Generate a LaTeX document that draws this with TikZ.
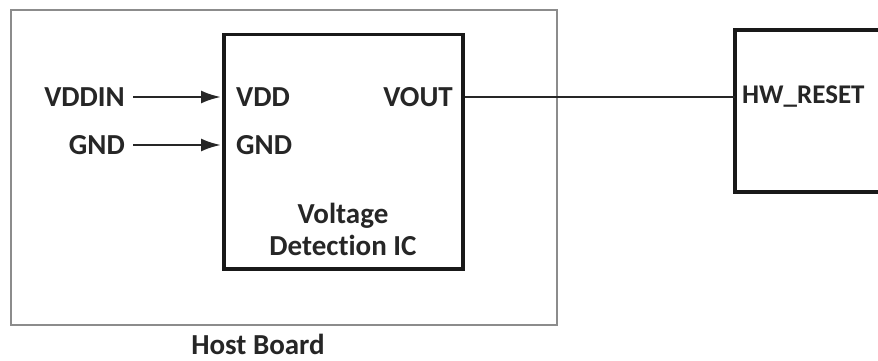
\documentclass[tikz,border=0pt]{standalone}
\usepackage{fontspec}
\setmainfont{Carlito}[Ligatures={NoCommon,NoRequired,NoContextual}]
\usetikzlibrary{arrows.meta}
\begin{document}
\begin{tikzpicture}[x=1pt,y=-1pt,
  lbl/.style={font=\fontsize{29}{32}\selectfont\bfseries, text=black!85, inner sep=0pt},
  board/.style={draw=black!45, line width=2.2pt},
  icbox/.style={draw=black!90, line width=3.5pt},
  wire/.style={draw=black!85, line width=2.6pt},
  sig/.style={wire, -{Latex[length=20pt,width=13pt]}}]
\useasboundingbox (0,0) rectangle (878,361);
\fill[white] (0,0) rectangle (878,361);
% host board
\draw[board] (11,10) rectangle (557,325);
\node[lbl, anchor=north] (host) at (258,334) {Host Board};
% IC
\node[icbox, minimum width=239pt, minimum height=234pt, inner sep=0pt, anchor=north west] (ic) at (222,33) {};
\node[lbl, anchor=west] (vdd) at (236,97) {VDD};
\node[lbl, anchor=west] (gndp) at (236,145) {GND};
\node[lbl, anchor=east] (vout) at (453,97) {VOUT};
\node[lbl, align=center] (name) at (343,229) {Voltage\\Detection IC};
% inputs
\node[lbl, anchor=east] (vddin) at (125,97) {VDDIN};
\node[lbl, anchor=east] (gnd) at (125,145) {GND};
\coordinate (vddend) at (221,97);
\coordinate (gndend) at (221,145);
\draw[sig] ([xshift=8pt]vddin.east) -- (vddend);
\draw[sig] ([xshift=8pt]gnd.east) -- (gndend);
% right box (open on the right)
\coordinate (rtop) at (880,30);
\coordinate (rbot) at (880,192);
\coordinate (rtl) at (735,30);
\coordinate (rbl) at (735,192);
\draw[icbox, line join=miter] (rtop) -- (rtl) -- (rbl) -- (rbot);
\node[lbl, anchor=west, font=\fontsize{27}{31}\selectfont\bfseries] (hw) at (742,97) {HW\_RESET};
\coordinate (hwpin) at (735,97);
\draw[wire] (ic.east |- vout) -- (hwpin);
\end{tikzpicture}
\end{document}
